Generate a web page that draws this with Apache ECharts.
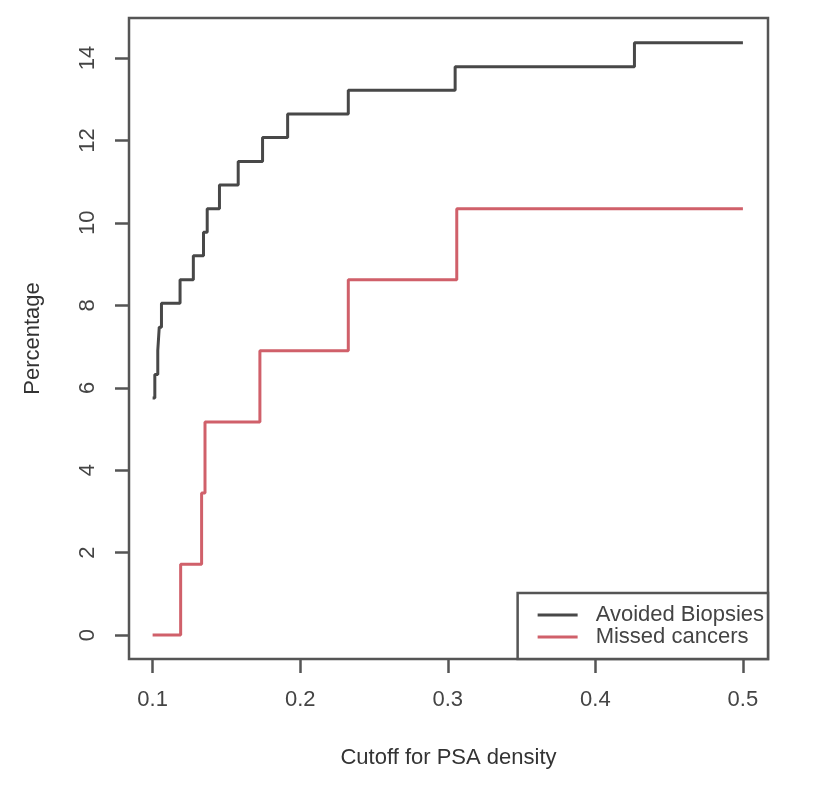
<!DOCTYPE html>
<html>
<head>
<meta charset="utf-8">
<title>PSA density cutoff</title>
<script src="https://cdn.jsdelivr.net/npm/echarts@6/dist/echarts.min.js"></script>
<style>
  html, body { margin: 0; padding: 0; background: #fff; }
  #chart { width: 817px; height: 800px; }
</style>
</head>
<body>
<div id="chart"></div>
<script>
// step points (value holds from x until the next x)
const avoidedX = [0.100, 0.1015, 0.1035, 0.1045, 0.106, 0.1186, 0.1276, 0.1345, 0.137, 0.1453, 0.158, 0.1745, 0.1915, 0.2326, 0.305, 0.4265, 0.5];
const avoidedY = [5.75, 6.32, 6.90, 7.47, 8.05, 8.62, 9.20, 9.77, 10.34, 10.92, 11.49, 12.07, 12.64, 13.22, 13.79, 14.37, 14.37];

const missedX = [0.100, 0.119, 0.1332, 0.1355, 0.1727, 0.2326, 0.3061, 0.5];
const missedY = [0, 1.72, 3.45, 5.17, 6.90, 8.62, 10.34, 10.34];

const xTicks = [0.1, 0.2, 0.3, 0.4, 0.5];
const yTicks = [0, 2, 4, 6, 8, 10, 12, 14];

const seriesNames = ['Avoided Biopsies', 'Missed cancers'];

function pairs(xs, ys) {
    return xs.map((x, i) => [x, ys[i]]);
}

const chart = echarts.init(document.getElementById('chart'));

const font = 'Liberation Sans, Arial, sans-serif';
const axisGrey = '#555';

const option = {
    animation: false,
    backgroundColor: '#fff',
    grid: {
        left: 129,
        right: 49,
        top: 18,
        bottom: 141,
        show: true,
        borderColor: axisGrey,
        borderWidth: 2.5
    },
    xAxis: {
        type: 'value',
        min: 0.084,
        max: 0.517,
        splitLine: { show: false },
        // keep the axis on the frame, not at y = 0
        axisLine: { show: false, onZero: false },
        axisTick: {
            show: true,
            customValues: xTicks,
            length: 14,
            lineStyle: { color: axisGrey, width: 2.5 }
        },
        axisLabel: {
            customValues: xTicks,
            margin: 30,
            fontSize: 22,
            fontFamily: font,
            color: '#444'
        },
        name: 'Cutoff for PSA density',
        nameLocation: 'middle',
        nameGap: 88,
        nameTextStyle: { fontSize: 22, fontFamily: font, color: '#333' }
    },
    yAxis: {
        type: 'value',
        min: -0.58,
        max: 14.97,
        splitLine: { show: false },
        axisLine: { show: false, onZero: false },
        axisTick: {
            show: true,
            customValues: yTicks,
            length: 14,
            lineStyle: { color: axisGrey, width: 2.5 }
        },
        axisLabel: {
            customValues: yTicks,
            rotate: 90,
            margin: 30,
            fontSize: 22,
            fontFamily: font,
            color: '#444'
        },
        name: 'Percentage',
        nameLocation: 'middle',
        nameRotate: 90,
        nameGap: 85,
        nameTextStyle: { fontSize: 22, fontFamily: font, color: '#333' }
    },
    legend: {
        orient: 'vertical',
        right: 49,
        bottom: 141,
        padding: [11, 4, 11, 20],
        itemGap: 0,
        icon: 'rect',
        itemWidth: 40,
        itemHeight: 3,
        backgroundColor: '#fff',
        borderColor: axisGrey,
        borderWidth: 2.5,
        borderRadius: 0,
        data: seriesNames,
        textStyle: {
            fontSize: 22,
            lineHeight: 22,
            fontFamily: font,
            color: '#444',
            padding: [0, 0, 0, 13]
        }
    },
    series: [
        {
            name: seriesNames[0],
            type: 'line',
            step: 'end',
            symbol: 'none',
            color: '#484848',
            lineStyle: { color: '#484848', width: 3 },
            data: pairs(avoidedX, avoidedY)
        },
        {
            name: seriesNames[1],
            type: 'line',
            step: 'end',
            symbol: 'none',
            color: '#d0606a',
            lineStyle: { color: '#d0606a', width: 3 },
            data: pairs(missedX, missedY)
        }
    ]
};

chart.setOption(option);
</script>
</body>
</html>
